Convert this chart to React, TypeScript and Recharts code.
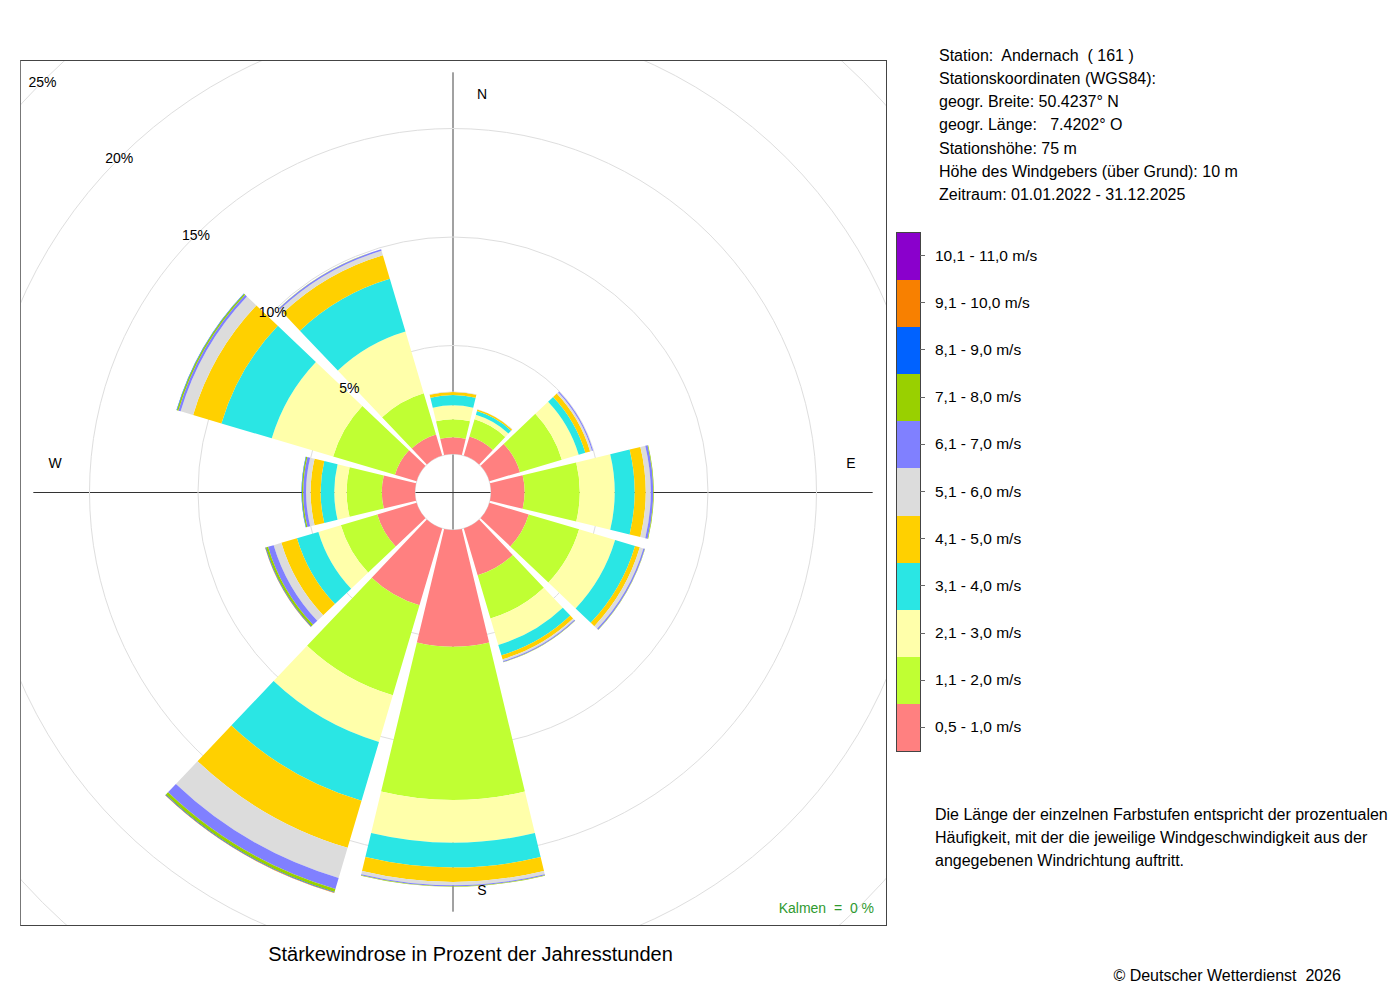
import React from "react";
import {
  RadialBarChart,
  RadialBar,
  PolarAngleAxis,
  PolarRadiusAxis,
  PolarGrid,
} from "recharts";

// ---------- data ----------
const directions = ["N", "NNO", "ONO", "O", "OSO", "SSO", "S", "SSW", "WSW", "W", "WNW", "NNW"];

const speedLabels = [
  "0,5 - 1,0 m/s",
  "1,1 - 2,0 m/s",
  "2,1 - 3,0 m/s",
  "3,1 - 4,0 m/s",
  "4,1 - 5,0 m/s",
  "5,1 - 6,0 m/s",
  "6,1 - 7,0 m/s",
  "7,1 - 8,0 m/s",
  "8,1 - 9,0 m/s",
  "9,1 - 10,0 m/s",
  "10,1 - 11,0 m/s",
];

const speedColors = [
  "#FF8080",
  "#C0FF33",
  "#FFFFAA",
  "#2AE6E4",
  "#FFD000",
  "#DCDCDC",
  "#8080FF",
  "#99D000",
  "#0062FF",
  "#F88000",
  "#8A00CC",
];

// percentage of hours per direction (N, NNO, ONO, O, OSO, SSO, S, SSW, WSW, W, WNW, NNW)
const v05_10 = [0.77, 0.92, 1.47, 1.55, 1.89, 2.25, 5.38, 3.69, 1.89, 1.53, 1.04, 1.01];
const v11_20 = [0.83, 0.83, 2.01, 2.54, 2.42, 2.08, 7.06, 4.33, 1.75, 1.62, 2.97, 1.99];
const v21_30 = [0.64, 0.21, 0.81, 1.61, 1.73, 1.27, 1.97, 2.24, 1.08, 0.57, 2.95, 2.96];
const v31_40 = [0.48, 0.18, 0.32, 0.92, 0.96, 0.5, 1.14, 2.83, 1.03, 0.63, 2.42, 2.54];
const v41_50 = [0.14, 0.07, 0.23, 0.51, 0.23, 0.19, 0.66, 2.26, 0.75, 0.46, 1.36, 1.13];
const v51_60 = [0.02, 0.02, 0.09, 0.23, 0.17, 0.08, 0.15, 1.45, 0.37, 0.21, 0.6, 0.21];
const v61_70 = [0, 0, 0.05, 0.11, 0.07, 0.05, 0.05, 0.53, 0.27, 0.13, 0.11, 0.07];
const v71_80 = [0, 0, 0, 0.03, 0.01, 0.01, 0.02, 0.14, 0.1, 0.06, 0.07, 0.01];
const v81_90 = [0, 0, 0, 0, 0, 0, 0, 0.03, 0.03, 0.02, 0.02, 0];
const v91_100 = [0, 0, 0, 0, 0, 0, 0, 0.02, 0.01, 0, 0, 0];
const v101_110 = [0, 0, 0, 0, 0, 0, 0, 0, 0, 0, 0, 0];

const seriesValues = [v05_10, v11_20, v21_30, v31_40, v41_50, v51_60, v61_70, v71_80, v81_90, v91_100, v101_110];

const radiusTicks = [0, 5, 10, 15, 20, 25];
const compassLabels = ["N", "E", "S", "W"];
const compassDegrees = [0, 90, 180, 270];

const stationLines = [
  "Station:  Andernach  ( 161 )",
  "Stationskoordinaten (WGS84):",
  "geogr. Breite: 50.4237° N",
  "geogr. Länge:   7.4202° O",
  "Stationshöhe: 75 m",
  "Höhe des Windgebers (über Grund): 10 m",
  "Zeitraum: 01.01.2022 - 31.12.2025",
];

const noteLines = [
  "Die Länge der einzelnen Farbstufen entspricht der prozentualen",
  "Häufigkeit, mit der die jeweilige Windgeschwindigkeit aus der",
  "angegebenen Windrichtung auftritt.",
];

const titleText = "Stärkewindrose in Prozent der Jahresstunden";
const copyrightText = "© Deutscher Wetterdienst  2026";
const calmText = "Kalmen  =  0 %";

// ---------- table for recharts ----------
const chartData = directions.map((dir, i) => {
  const row: Record<string, any> = { dir };
  seriesValues.forEach((s, k) => {
    row[`c${k}`] = s[i];
  });
  return row;
});

const totals = directions.map((_, i) => seriesValues.reduce((a, s) => a + s[i], 0));
const maxTotal = Math.max(...totals);

// ---------- geometry / style ----------
const FONT = "'Liberation Sans', Arial, Helvetica, sans-serif";
const FRAME_LEFT = 20;
const FRAME_TOP = 60;
const FRAME_W = 867;
const FRAME_H = 866;
const CHART_W = FRAME_W - 2;
const CHART_H = FRAME_H - 2;
const CX = 432;
const CY = 431;
const INNER_R = 38;
const OUTER_R = 580.5;
const R_MAX = 25;
const rOf = (v: number) => INNER_R + ((OUTER_R - INNER_R) * v) / R_MAX;
const CROSS_R = rOf(maxTotal) + 1.5;
const COMPASS_R = 398;
const COMPASS_SHIFT = 29;

const PctTick = (props: any) => {
  const { x, y, payload } = props;
  if (!payload || payload.value === 0) return <g />;
  return (
    <text
      x={x}
      y={y}
      textAnchor="middle"
      dominantBaseline="central"
      fontSize={14}
      fontFamily={FONT}
      fill="#000"
    >
      {`${payload.value}%`}
    </text>
  );
};

const LEG_LEFT = 896;
const LEG_TOP = 232;
const LEG_W = 25;
const LEG_H = 520;

export default function App() {
  const bandH = (LEG_H - 1) / speedLabels.length;
  return (
    <div
      style={{
        position: "absolute",
        left: 0,
        top: 0,
        width: 1400,
        height: 1000,
        background: "#fff",
        fontFamily: FONT,
        color: "#000",
      }}
    >
      {/* plot frame */}
      <div
        style={{
          position: "absolute",
          left: FRAME_LEFT,
          top: FRAME_TOP,
          width: FRAME_W,
          height: FRAME_H,
          boxSizing: "border-box",
          border: "1px solid #444",
          borderLeft: "1px solid #777",
          overflow: "hidden",
        }}
      >
        <svg
          width={CHART_W}
          height={CHART_H}
          style={{ position: "absolute", left: 0, top: 0 }}
        >
          <line x1={CX} y1={CY - CROSS_R} x2={CX} y2={CY + CROSS_R} stroke="#444" strokeWidth={1} />
          <line x1={CX - CROSS_R} y1={CY + 0.5} x2={CX + CROSS_R} y2={CY + 0.5} stroke="#333" strokeWidth={1} />
        </svg>
        <div style={{ position: "absolute", left: 0, top: 0 }}>
          <RadialBarChart
            width={CHART_W}
            height={CHART_H}
            data={chartData}
            cx={CX}
            cy={CY}
            innerRadius={INNER_R}
            outerRadius={OUTER_R}
            startAngle={75}
            endAngle={-285}
            layout="centric"
            barCategoryGap="5%"
            margin={{ top: 0, right: 0, bottom: 0, left: 0 }}
          >
            <PolarGrid gridType="circle" radialLines={false} stroke="#dedede" strokeWidth={1} />
            <PolarAngleAxis type="category" dataKey="dir" tick={false} axisLine={false} tickLine={false} />
            <PolarRadiusAxis
              type="number"
              domain={[0, R_MAX]}
              ticks={radiusTicks}
              tickCount={radiusTicks.length}
              angle={135}
              axisLine={false}
              tickLine={false}
              tick={PctTick}
            />
            {speedLabels.map((lab, k) => (
              <RadialBar
                key={lab}
                dataKey={`c${k}`}
                name={lab}
                stackId="speed"
                fill={speedColors[k]}
                stroke="none"
                isAnimationActive={false}
              />
            ))}
          </RadialBarChart>
        </div>
        <svg
          width={CHART_W}
          height={CHART_H}
          style={{ position: "absolute", left: 0, top: 0, pointerEvents: "none" }}
        >
          {compassLabels.map((lab, i) => {
            const a = (compassDegrees[i] * Math.PI) / 180;
            const vertical = compassDegrees[i] % 180 === 0;
            const x = CX + Math.sin(a) * COMPASS_R + (vertical ? COMPASS_SHIFT : 0);
            const y = CY - Math.cos(a) * COMPASS_R - (vertical ? 0 : COMPASS_SHIFT);
            return (
              <text
                key={lab}
                x={x}
                y={y}
                textAnchor="middle"
                dominantBaseline="central"
                fontSize={14}
                fontFamily={FONT}
                fill="#000"
              >
                {lab}
              </text>
            );
          })}
        </svg>
      </div>

      {/* calm info */}
      <div
        style={{
          position: "absolute",
          left: 680,
          top: 899,
          width: 194,
          textAlign: "right",
          fontSize: 14,
          lineHeight: "18px",
          color: "#2f9a2f",
          whiteSpace: "pre",
        }}
      >
        {calmText}
      </div>

      {/* title */}
      <div
        style={{
          position: "absolute",
          left: 0,
          top: 942,
          width: 941,
          textAlign: "center",
          fontSize: 20,
          lineHeight: "24px",
        }}
      >
        {titleText}
      </div>

      {/* copyright */}
      <div
        style={{
          position: "absolute",
          left: 1000,
          top: 966,
          width: 341,
          textAlign: "right",
          fontSize: 16,
          lineHeight: "20px",
          whiteSpace: "pre",
        }}
      >
        {copyrightText}
      </div>

      {/* station info */}
      <div
        style={{
          position: "absolute",
          left: 939,
          top: 43.8,
          fontSize: 16,
          lineHeight: "23.2px",
          whiteSpace: "pre",
        }}
      >
        {stationLines.map((l) => (
          <div key={l}>{l}</div>
        ))}
      </div>

      {/* legend */}
      <div
        style={{
          position: "absolute",
          left: LEG_LEFT,
          top: LEG_TOP,
          width: LEG_W,
          height: LEG_H,
          boxSizing: "border-box",
          border: "1px solid #444",
          display: "flex",
          flexDirection: "column-reverse",
        }}
      >
        {speedColors.map((c, k) => (
          <div key={k} style={{ flex: 1, background: c }} />
        ))}
      </div>
      {speedLabels.map((lab, k) => {
        const yc = LEG_TOP + (speedLabels.length - 1 - k + 0.5) * bandH;
        return (
          <React.Fragment key={lab}>
            <div
              style={{
                position: "absolute",
                left: LEG_LEFT + LEG_W - 1,
                top: yc - 0.5,
                width: 5,
                height: 1,
                background: "#666",
              }}
            />
            <div
              style={{
                position: "absolute",
                left: 935,
                top: yc - 10,
                fontSize: 15.5,
                lineHeight: "20px",
                whiteSpace: "pre",
              }}
            >
              {lab}
            </div>
          </React.Fragment>
        );
      })}

      {/* note */}
      <div
        style={{
          position: "absolute",
          left: 935,
          top: 802.5,
          fontSize: 16,
          lineHeight: "23px",
          whiteSpace: "pre",
        }}
      >
        {noteLines.map((l) => (
          <div key={l}>{l}</div>
        ))}
      </div>
    </div>
  );
}
